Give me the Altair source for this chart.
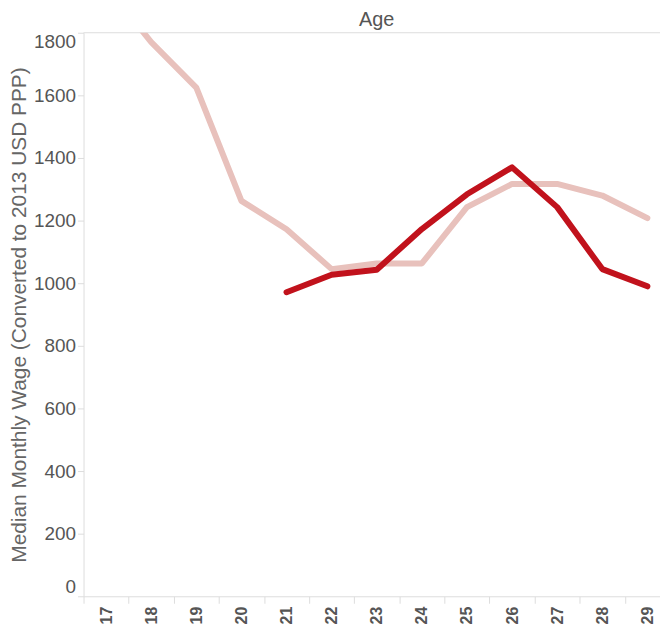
import altair as alt
import pandas as pd

ages = [17, 18, 19, 20, 21, 22, 23, 24, 25, 26, 27, 28, 29]
light_vals = [1950, 1770, 1625, 1263, 1172, 1045, 1063, 1063, 1243, 1317, 1317, 1280, 1208]
dark_vals = [None, None, None, None, 971, 1027, 1043, 1173, 1284, 1370, 1243, 1045, 990]
y_ticks = [0, 200, 400, 600, 800, 1000, 1200, 1400, 1600, 1800]

series_names = ["Group B", "Group A"]
series_colors = ["#e8c1bc", "#c1121c"]

rows = []
for a, v in zip(ages, light_vals):
    if v is not None:
        rows.append({"age": a, "wage": v, "series": series_names[0]})
for a, v in zip(ages, dark_vals):
    if v is not None:
        rows.append({"age": a, "wage": v, "series": series_names[1]})
df = pd.DataFrame(rows)

W, H = 590, 567

x = alt.X(
    "age:O",
    bandPosition=0.5,
    scale=alt.Scale(type="band", paddingInner=0, paddingOuter=0),
    axis=alt.Axis(
        title=None,
        labelAngle=270,
        labelFontWeight="bold",
        labelFontSize=16,
        labelColor="#555555",
        labelFont="Liberation Sans",
        labelPadding=3,
        tickBand="extent",
        tickSize=7,
        tickColor="#dddddd",
        domainColor="#dddddd",
        grid=False,
    ),
)
y = alt.Y(
    "wage:Q",
    scale=alt.Scale(domain=[0, 1800], nice=False, zero=True),
    axis=alt.Axis(
        title="Median Monthly Wage (Converted to 2013 USD PPP)",
        titleFontSize=21,
        titleFontWeight="normal",
        titleColor="#666666",
        titleFont="Liberation Sans",
        titlePadding=4,
        values=y_ticks,
        format="d",
        labelFontSize=19,
        labelColor="#555555",
        labelFont="Liberation Sans",
        labelFlush=True,
        labelPadding=2,
        tickSize=6,
        tickColor="#dddddd",
        domainColor="#dddddd",
        grid=False,
    ),
)
color = alt.Color(
    "series:N",
    scale=alt.Scale(domain=series_names, range=series_colors),
    legend=None,
)

base = alt.Chart(df)
light = base.transform_filter(alt.datum.series == series_names[0]).mark_line(
    strokeWidth=6, strokeCap="round", strokeJoin="round", clip=True
).encode(x=x, y=y, color=color)
dark = base.transform_filter(alt.datum.series == series_names[1]).mark_line(
    strokeWidth=6, strokeCap="round", strokeJoin="round", clip=True
).encode(x=x, y=y, color=color)

top_rule = alt.Chart(alt.Data(values=[{"k": 1}])).mark_rule(
    color="#dddddd", strokeWidth=1
).encode(y=alt.value(0), x=alt.value(0), x2=alt.value(W))

chart = alt.layer(top_rule, light, dark).properties(
    width=W,
    height=H,
    title=alt.TitleParams(
        "Age",
        fontSize=20,
        fontWeight="normal",
        color="#555555",
        font="Liberation Sans",
        anchor="middle",
        offset=2,
    ),
    padding={"left": 76, "top": 23, "right": -10, "bottom": 26},
    autosize=alt.AutoSizeParams(type="none"),
).configure_view(stroke=None)

chart.save("out.html", embed_options={"renderer": "svg", "actions": False})
